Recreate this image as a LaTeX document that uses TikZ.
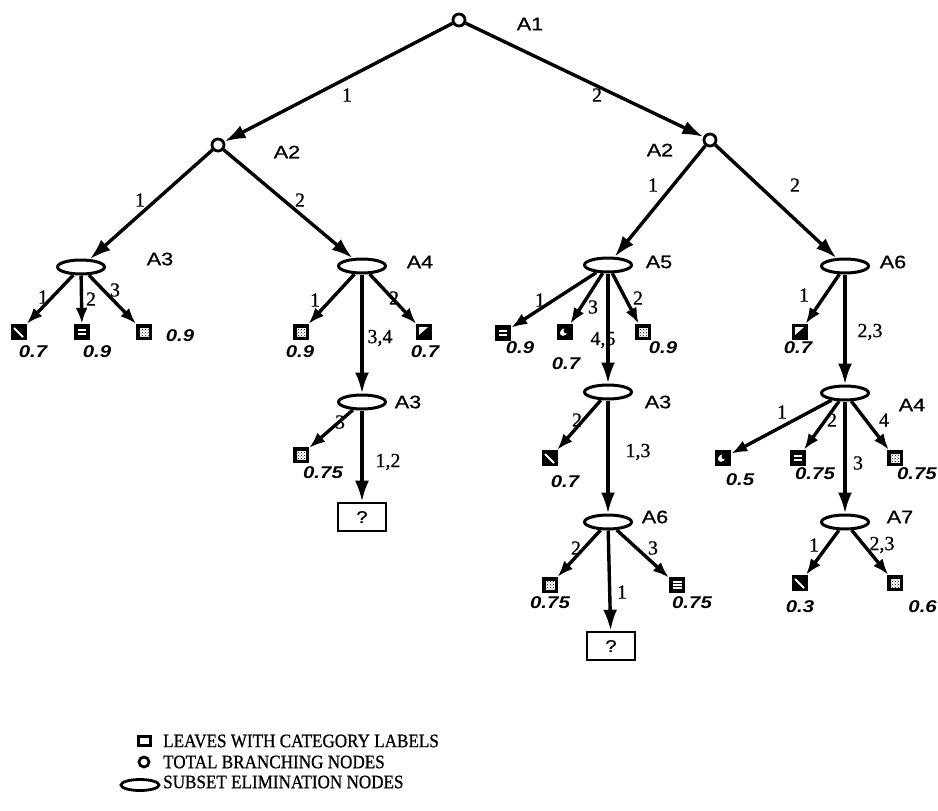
\documentclass[tikz,border=0pt]{standalone}
\usepackage{fontspec}
\setmainfont[FakeBold=0.6]{Liberation Serif}
\newfontfamily\namefont[FakeStretch=1.2,FakeBold=0.8]{Liberation Sans}
\newfontfamily\valfont[FakeStretch=1.2]{Liberation Sans}
\newfontfamily\legfont[FakeBold=0.8,FakeStretch=0.9]{Liberation Serif}
\usetikzlibrary{shapes.geometric,arrows.meta,patterns}

\tikzset{
  % node kinds
  tbn/.style={circle,draw,line width=2.8pt,minimum size=12pt,inner sep=0pt},
  sen/.style={ellipse,draw,line width=3pt,minimum width=47pt,minimum height=14pt,inner sep=0pt},
  leaf/.style={rectangle,fill=black,minimum size=16pt,inner sep=0pt},
  qbox/.style={rectangle,draw,line width=2.6pt,minimum width=48pt,minimum height=28pt,inner sep=0pt,
    font=\namefont\fontsize{17}{17}\selectfont},
  % leaf markings
  dotsq/.style={leaf,path picture={
    \fill[white] ([shift={(-4.5pt,-4.5pt)}]path picture bounding box.center) rectangle ([shift={(4.5pt,4.5pt)}]path picture bounding box.center);
    \fill[pattern=crosshatch dots] ([shift={(-4.5pt,-4.5pt)}]path picture bounding box.center) rectangle ([shift={(4.5pt,4.5pt)}]path picture bounding box.center);}},
  barsq/.style={leaf,path picture={
    \fill[white] ([shift={(-4pt,1pt)}]path picture bounding box.center) rectangle ([shift={(4pt,2.8pt)}]path picture bounding box.center);
    \fill[white] ([shift={(-4pt,-2.8pt)}]path picture bounding box.center) rectangle ([shift={(4pt,-1pt)}]path picture bounding box.center);}},
  bar3sq/.style={leaf,path picture={
    \foreach \yy in {-3.8,-0.8,2.2} {\fill[white] ([shift={(-4.5pt,\yy pt)}]path picture bounding box.center) rectangle ([shift={(4.5pt,\yy pt+1.5pt)}]path picture bounding box.center);}}},
  diagsq/.style={leaf,path picture={
    \draw[white,line width=1.8pt] ([shift={(-5pt,4pt)}]path picture bounding box.center) -- ([shift={(4pt,-5pt)}]path picture bounding box.center);}},
  opensq/.style={leaf,path picture={
    \fill[white] ([shift={(-5pt,-3pt)}]path picture bounding box.center) -- ([shift={(-5pt,5pt)}]path picture bounding box.center) -- ([shift={(4pt,5pt)}]path picture bounding box.center) -- cycle;}},
  moonsq/.style={leaf,path picture={
    \fill[white] ([shift={(-1pt,0pt)}]path picture bounding box.center) circle[x radius=4.5pt,y radius=3.3pt,rotate=40];
    \fill[black] ([shift={(1.5pt,1.5pt)}]path picture bounding box.center) circle[radius=3pt];}},
  % connectors
  br/.style={line width=3.4pt,-{Latex[length=21pt,width=14pt]}},
  lf/.style={line width=3.4pt,-{Latex[length=16pt,width=12pt]}},
  % texts
  nm/.style={font=\namefont\fontsize{18}{18}\selectfont,inner sep=0pt},
  el/.style={font=\fontsize{20}{20}\selectfont,inner sep=0pt},
  val/.style={font=\valfont\bfseries\itshape\fontsize{17}{17}\selectfont,inner sep=0pt},
  lg/.style={font=\legfont\fontsize{19}{19}\selectfont,anchor=west,inner sep=0pt},
}

\begin{document}
\begin{tikzpicture}[x=1pt,y=-1pt]
\useasboundingbox (0,0) rectangle (938,811);

% ---- decision nodes
\node[tbn] (a1) at (459,20) {};
\node[tbn] (a2l) at (218,145) {};
\node[tbn] (a2r) at (710,140) {};
\node[sen] (a3a) at (81,267) {};
\node[sen] (a4a) at (362,266) {};
\node[sen] (a5) at (608,265) {};
\node[sen] (a6a) at (845,266) {};
\node[sen] (a3b) at (362,402) {};
\node[sen] (a3c) at (608,392) {};
\node[sen] (a6b) at (608,522) {};
\node[sen] (a4b) at (845,393) {};
\node[sen] (a7) at (845,522) {};
\node[qbox] (q1) at (362,517) {?};
\node[qbox] (q2) at (611,646) {?};

% ---- leaves
\node[diagsq] (l1) at (19,332) {};
\node[barsq] (l2) at (82,332) {};
\node[dotsq] (l3) at (144,332) {};
\node[dotsq] (l4) at (301,332) {};
\node[opensq] (l5) at (424,332) {};
\node[dotsq] (l6) at (301,455) {};
\node[barsq] (l7) at (503,333) {};
\node[moonsq] (l8) at (565,332) {};
\node[dotsq] (l9) at (643,332) {};
\node[diagsq] (l10) at (550,458) {};
\node[dotsq] (l11) at (550,585) {};
\node[bar3sq] (l12) at (677,585) {};
\node[opensq] (l13) at (800,332) {};
\node[moonsq] (l14) at (723,458) {};
\node[barsq] (l15) at (798,458) {};
\node[dotsq] (l16) at (895,458) {};
\node[diagsq] (l17) at (800,583) {};
\node[dotsq] (l18) at (895,583) {};

% ---- branches
\draw[br] (a1) -- (a2l);
\draw[br] (a1) -- (a2r);
\draw[br] (a2l) -- (a3a);
\draw[br] (a2l) -- (a4a);
\draw[br] (a2r) -- (a5);
\draw[br] (a2r) -- (a6a);
\draw[br] (a4a) -- (a3b);
\draw[br] (a3b) -- (q1);
\draw[br] (a5) -- (a3c);
\draw[br] (a3c) -- (a6b);
\draw[br] (a6b) -- (q2);
\draw[br] (a6a) -- (a4b);
\draw[br] (a4b) -- (a7);

\draw[lf] (a3a) -- (l1);
\draw[lf] (a3a) -- (l2);
\draw[lf] (a3a) -- (l3);
\draw[lf] (a4a) -- (l4);
\draw[lf] (a4a) -- (l5);
\draw[lf] (a3b) -- (l6);
\draw[lf] (a5) -- (l7);
\draw[lf] (a5) -- (l8);
\draw[lf] (a5) -- (l9);
\draw[lf] (a3c) -- (l10);
\draw[lf] (a6b) -- (l11);
\draw[lf] (a6b) -- (l12);
\draw[lf] (a6a) -- (l13);
\draw[lf] (a4b) -- (l14);
\draw[lf] (a4b) -- (l15);
\draw[lf] (a4b) -- (l16);
\draw[lf] (a7) -- (l17);
\draw[lf] (a7) -- (l18);

% ---- attribute names
\node[nm] (n1) at (530,24) {A1};
\node[nm] (n2) at (287,152) {A2};
\node[nm] (n3) at (660,150) {A2};
\node[nm] (n4) at (160,259) {A3};
\node[nm] (n5) at (420,262) {A4};
\node[nm] (n6) at (659,262) {A5};
\node[nm] (n7) at (893,262) {A6};
\node[nm] (n8) at (408,402) {A3};
\node[nm] (n9) at (658,402) {A3};
\node[nm] (n10) at (655,517) {A6};
\node[nm] (n11) at (912,405) {A4};
\node[nm] (n12) at (900,517) {A7};

% ---- branch values
\node[el] (e1) at (347,95) {1};
\node[el] (e2) at (597,95) {2};
\node[el] (e3) at (140,200) {1};
\node[el] (e4) at (300,200) {2};
\node[el] (e5) at (653,185) {1};
\node[el] (e6) at (795,185) {2};
\node[el] (e7) at (43,297) {1};
\node[el] (e8) at (91,299) {2};
\node[el] (e9) at (115,290) {3};
\node[el] (e10) at (315,300) {1};
\node[el] (e11) at (394,298) {2};
\node[el] (e12) at (380,338) {3,4};
\node[el] (e13) at (340,422) {3};
\node[el] (e14) at (388,462) {1,2};
\node[el] (e15) at (540,300) {1};
\node[el] (e16) at (593,307) {3};
\node[el] (e17) at (638,298) {2};
\node[el] (e18) at (603,340) {4,5};
\node[el] (e19) at (577,420) {2};
\node[el] (e20) at (638,452) {1,3};
\node[el] (e21) at (576,548) {2};
\node[el] (e22) at (653,548) {3};
\node[el] (e23) at (622,592) {1};
\node[el] (e24) at (804,295) {1};
\node[el] (e25) at (870,332) {2,3};
\node[el] (e26) at (782,412) {1};
\node[el] (e27) at (832,420) {2};
\node[el] (e28) at (858,463) {3};
\node[el] (e29) at (884,420) {4};
\node[el] (e30) at (814,545) {1};
\node[el] (e31) at (882,545) {2,3};

% ---- leaf accuracies
\node[val] (v1) at (33,352) {0.7};
\node[val] (v2) at (97,352) {0.9};
\node[val] (v3) at (180,336) {0.9};
\node[val] (v4) at (300,352) {0.9};
\node[val] (v5) at (425,352) {0.7};
\node[val] (v6) at (323,473) {0.75};
\node[val] (v7) at (520,348) {0.9};
\node[val] (v8) at (566,364) {0.7};
\node[val] (v9) at (663,348) {0.9};
\node[val] (v10) at (565,482) {0.7};
\node[val] (v11) at (550,603) {0.75};
\node[val] (v12) at (692,603) {0.75};
\node[val] (v13) at (798,348) {0.7};
\node[val] (v14) at (740,480) {0.5};
\node[val] (v15) at (815,474) {0.75};
\node[val,anchor=east] (v16) at (937,474) {0.75};
\node[val] (v17) at (800,607) {0.3};
\node[val,anchor=east] (v18) at (937,607) {0.6};

% ---- legend
\node[rectangle,draw,line width=3pt,minimum width=12pt,minimum height=9pt,inner sep=0pt] (k1) at (144,741) {};
\node[circle,draw,line width=2.8pt,minimum size=10pt,inner sep=0pt] (k2) at (144,762) {};
\node[ellipse,draw,line width=2.8pt,minimum width=38pt,minimum height=11pt,inner sep=0pt] (k3) at (140,785) {};
\node[lg] (t1) at (163,741) {LEAVES WITH CATEGORY LABELS};
\node[lg] (t2) at (163,762) {TOTAL BRANCHING NODES};
\node[lg] (t3) at (163,782) {SUBSET ELIMINATION NODES};
\end{tikzpicture}
\end{document}
